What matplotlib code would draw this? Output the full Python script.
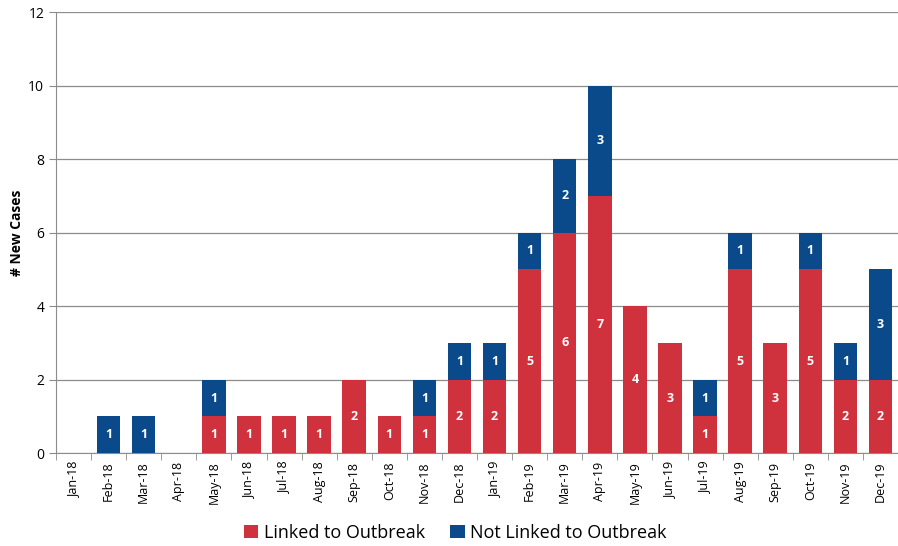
import matplotlib.pyplot as plt
import numpy as np

months = ['Jan-18', 'Feb-18', 'Mar-18', 'Apr-18', 'May-18', 'Jun-18', 'Jul-18', 'Aug-18',
          'Sep-18', 'Oct-18', 'Nov-18', 'Dec-18', 'Jan-19', 'Feb-19', 'Mar-19', 'Apr-19',
          'May-19', 'Jun-19', 'Jul-19', 'Aug-19', 'Sep-19', 'Oct-19', 'Nov-19', 'Dec-19']
linked = [0, 0, 0, 0, 1, 1, 1, 1, 2, 1, 1, 2, 2, 5, 6, 7, 4, 3, 1, 5, 3, 5, 2, 2]
not_linked = [0, 1, 1, 0, 1, 0, 0, 0, 0, 0, 1, 1, 1, 1, 2, 3, 0, 0, 1, 1, 0, 1, 1, 3]

RED = '#CF323C'
BLUE = '#0B4A8A'
GRID = '#8C8C8C'

plt.rcParams['font.family'] = ['Open Sans', 'DejaVu Sans']

fig = plt.figure(figsize=(8.98, 5.46), dpi=100)
ax = fig.add_axes([0.0624, 0.170, 0.9376, 0.808])

x = np.arange(len(months))
w = 0.67
b1 = ax.bar(x, linked, w, color=RED, label='Linked to Outbreak', zorder=3)
b2 = ax.bar(x, not_linked, w, bottom=linked, color=BLUE, label='Not Linked to Outbreak', zorder=3)

for i in range(len(months)):
    if linked[i] > 0:
        ax.text(x[i], linked[i] / 2, str(linked[i]), ha='center', va='center',
                color='white', fontsize=9, fontweight='bold', zorder=4)
    if not_linked[i] > 0:
        ax.text(x[i], linked[i] + not_linked[i] / 2, str(not_linked[i]), ha='center',
                va='center', color='white', fontsize=9, fontweight='bold', zorder=4)

ax.set_xlim(-0.5, len(months) - 0.5)
ax.set_ylim(0, 12)
ax.set_yticks(range(0, 13, 2))
ax.yaxis.grid(True, color=GRID, linewidth=0.9, zorder=0)
ax.set_axisbelow(True)

ax.set_xticks(x)
ax.set_xticklabels(months, rotation=90, fontsize=9)
ax.set_xticks(np.arange(-0.5, len(months), 1), minor=True)
ax.tick_params(axis='x', which='major', length=0, pad=6)
ax.tick_params(axis='x', which='minor', length=5, color=GRID)
ax.tick_params(axis='y', length=5, color=GRID, labelsize=10)

for s in ['top', 'right']:
    ax.spines[s].set_visible(False)
ax.spines['left'].set_color(GRID)
ax.spines['bottom'].set_color(GRID)

ax.set_ylabel('# New Cases', fontsize=10, fontweight='bold', labelpad=3)

fig.legend(handles=[b1, b2], loc='lower center', bbox_to_anchor=(0.507, -0.022), ncol=2,
           frameon=False, fontsize=13, handlelength=0.8, handleheight=0.8,
           handletextpad=0.3, columnspacing=1.4)

fig.savefig('out.png', dpi=100)
